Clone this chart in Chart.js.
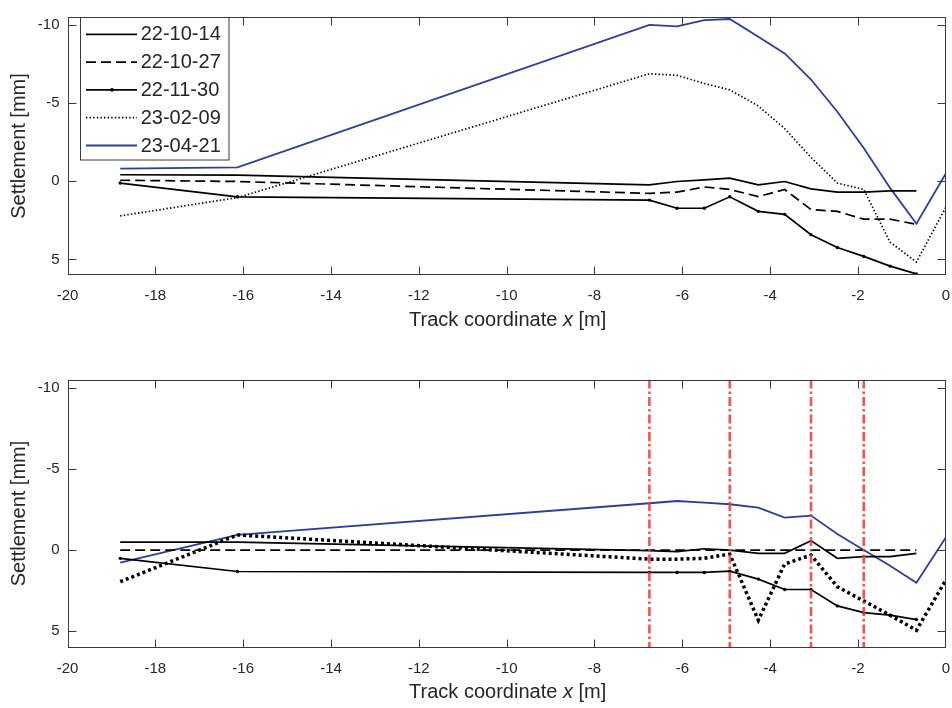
<!DOCTYPE html>
<html><head><meta charset="utf-8">
<script src="https://cdn.jsdelivr.net/npm/chart.js@4/dist/chart.umd.min.js"></script>
<style>
html,body{margin:0;padding:0;background:#fff;}
#wrap{position:relative;width:952px;height:708px;overflow:hidden;}
.box{position:absolute;left:0;width:952px;height:354px;}
canvas{display:block;}
</style></head><body>
<div id="wrap">
<div class="box" style="top:0"><canvas id="c1" width="952" height="354"></canvas></div>
<div class="box" style="top:354px"><canvas id="c2" width="952" height="354"></canvas></div>
</div>
<script>
// ---- data ----
const xPositions = [-18.8, -16.13, -6.75, -6.12, -5.5, -4.92, -4.27, -3.67, -3.07, -2.47, -1.87, -1.27, -0.67, 0];
const seriesLabels = ['22-10-14', '22-10-27', '22-11-30', '23-02-09', '23-04-21'];

const top221014 = [-0.41, -0.39, 0.23, 0.02, -0.08, -0.19, 0.23, 0.02, 0.49, 0.70, 0.70, 0.62, 0.62];
const top221027 = [-0.06, 0.02, 0.78, 0.70, 0.37, 0.53, 0.99, 0.53, 1.81, 1.93, 2.43, 2.43, 2.76];
const top221130 = [0.12, 1.00, 1.21, 1.73, 1.73, 1.00, 1.93, 2.12, 3.42, 4.24, 4.81, 5.43, 5.93];
const top230209 = [2.22, 1.05, -6.87, -6.77, -6.25, -5.84, -4.81, -3.37, -1.52, 0.12, 0.53, 3.90, 5.17, 1.67];
const top230421 = [-0.80, -0.88, -10.0, -9.90, -10.30, -10.37, -9.24, -8.17, -6.50, -4.44, -2.12, 0.43, 2.72, -0.49];

const bot221014 = [-0.49, -0.49, 0.04, 0.10, -0.08, 0.00, 0.20, 0.20, -0.58, 0.51, 0.41, 0.41, 0.20];
const bot221027 = [0, 0, 0, 0, 0, 0, 0, 0, 0, 0, 0, 0, 0];
const bot221130 = [0.51, 1.32, 1.38, 1.38, 1.38, 1.30, 1.79, 2.43, 2.43, 3.44, 3.85, 4.01, 4.28];
const bot230209 = [1.95, -0.93, 0.56, 0.56, 0.51, 0.25, 4.32, 0.86, 0.31, 2.26, 3.13, 4.01, 4.94, 1.85];
const bot230421 = [0.78, -0.93, -2.88, -3.02, -2.92, -2.82, -2.61, -2.00, -2.12, -0.99, 0.00, 0.97, 2.02, -0.78];

const redLineX = [-6.75, -4.92, -3.07, -1.87];

const xTickValues = [-20, -18, -16, -14, -12, -10, -8, -6, -4, -2, 0];
const yTickValues = [-10, -5, 0, 5];
const xRange = [-20, 0];
const yRange = [-10.5, 6];
const yAxisTitle = 'Settlement [mm]';
const xAxisTitleParts = ['Track coordinate ', 'x', ' [m]'];

// ---- styles ----
const FONT = '"Liberation Sans", Arial, Helvetica, sans-serif';
const AXIS = '#3a3a3a';
const TEXT = '#262626';
const BLUE = '#2b3ca6';
const RED = 'rgba(238,62,62,0.88)';

function pts(vals) { return vals.map((v, i) => ({ x: xPositions[i], y: v })); }

function makeDatasets(v, thickDots) {
  return [
    { label: seriesLabels[0], data: pts(v[0]), borderColor: '#000', borderWidth: 1.7, borderDash: [], pointRadius: 0 },
    { label: seriesLabels[1], data: pts(v[1]), borderColor: '#000', borderWidth: 1.7, borderDash: [10, 5], pointRadius: 0 },
    { label: seriesLabels[2], data: pts(v[2]), borderColor: '#000', borderWidth: 1.7, borderDash: [], pointRadius: 1.7, pointBackgroundColor: '#000', pointBorderWidth: 0 },
    thickDots
      ? { label: seriesLabels[3], data: pts(v[3]), borderColor: '#000', borderWidth: 3.5, borderDash: [3, 3], pointRadius: 0 }
      : { label: seriesLabels[3], data: pts(v[3]), borderColor: '#000', borderWidth: 1.7, borderDash: [1.4, 2.2], pointRadius: 0 },
    { label: seriesLabels[4], data: pts(v[4]), borderColor: BLUE, borderWidth: 1.8, borderDash: [], pointRadius: 0 }
  ];
}

const framePlugin = {
  id: 'frame',
  afterDatasetsDraw(chart, args, opts) {
    const ctx = chart.ctx, a = chart.chartArea;
    const xs = chart.scales.x, ys = chart.scales.y;
    ctx.save();
    ctx.strokeStyle = AXIS; ctx.lineWidth = 1; ctx.setLineDash([]);
    const L = Math.round(a.left) + 0.5, R = Math.round(a.right) - 0.5, T = Math.round(a.top) + 0.5, B = Math.round(a.bottom) - 0.5;
    ctx.strokeRect(L, T, R - L, B - T);
    const tl = 8;
    ctx.beginPath();
    xTickValues.forEach(v => {
      const px = Math.round(xs.getPixelForValue(v)) + 0.5;
      if (px <= L + 1 || px >= R - 1) return;
      ctx.moveTo(px, B); ctx.lineTo(px, B - tl);
      ctx.moveTo(px, T); ctx.lineTo(px, T + tl);
    });
    yTickValues.forEach(v => {
      const py = Math.round(ys.getPixelForValue(v)) + 0.5;
      ctx.moveTo(L, py); ctx.lineTo(L + tl, py);
      ctx.moveTo(R, py); ctx.lineTo(R - tl, py);
    });
    ctx.stroke();

    // x axis title with italic x
    ctx.fillStyle = TEXT;
    ctx.textBaseline = 'middle';
    ctx.textAlign = 'left';
    const fN = '20px ' + FONT, fI = 'italic 20px ' + FONT;
    const fonts = [fN, fI, fN];
    let total = 0;
    const widths = xAxisTitleParts.map((s, i) => { ctx.font = fonts[i]; const w = ctx.measureText(s).width; total += w; return w; });
    let x = (a.left + a.right) / 2 - total / 2 + 1;
    const y = a.bottom + 45;
    xAxisTitleParts.forEach((s, i) => { ctx.font = fonts[i]; ctx.fillText(s, x, y); x += widths[i]; });

    if (opts && opts.legend) {
      ctx.fillStyle = '#fff';
      ctx.fillRect(80.5, 17.5, 148.5, 142.5);
      ctx.strokeStyle = AXIS; ctx.lineWidth = 1;
      ctx.strokeRect(80.5, 17.5, 148.5, 142.5);
      chart.data.datasets.forEach((ds, i) => {
        const ey = 34.3 + i * 27.8;
        ctx.strokeStyle = ds.borderColor;
        ctx.lineWidth = ds.borderWidth;
        ctx.setLineDash(ds.borderDash || []);
        ctx.beginPath(); ctx.moveTo(86, ey); ctx.lineTo(137, ey); ctx.stroke();
        ctx.setLineDash([]);
        if (ds.pointRadius > 0) {
          ctx.fillStyle = '#000';
          ctx.beginPath(); ctx.arc(112, ey, 1.8, 0, Math.PI * 2); ctx.fill();
        }
        ctx.fillStyle = TEXT;
        ctx.font = '20px ' + FONT;
        ctx.textBaseline = 'middle';
        ctx.fillText(ds.label, 140.7, ey + 0.5);
      });
    }
    ctx.restore();
  }
};

function makeOptions(padTop, padBottom, xHeight, legend) {
  return {
    responsive: false,
    animation: false,
    devicePixelRatio: 1,
    layout: { padding: { left: 3, right: 6, top: padTop, bottom: padBottom } },
    elements: { line: { tension: 0, borderCapStyle: 'butt', borderJoinStyle: 'miter' } },
    plugins: { legend: { display: false }, tooltip: { enabled: false }, frame: { legend: legend } },
    scales: {
      x: {
        type: 'linear', min: xRange[0], max: xRange[1],
        afterBuildTicks: s => { s.ticks = xTickValues.map(v => ({ value: v })); },
        afterFit: s => { s.height = xHeight; },
        grid: { display: false, drawTicks: true, tickLength: 10 },
        border: { display: false },
        ticks: { autoSkip: false, maxRotation: 0, padding: 2, color: TEXT, font: { family: FONT, size: 15 } },
        title: { display: false }
      },
      y: {
        type: 'linear', reverse: true, min: yRange[0], max: yRange[1],
        afterBuildTicks: s => { s.ticks = yTickValues.map(v => ({ value: v })); },
        afterFit: s => { s.width = 64.5; },
        grid: { display: false, drawTicks: false },
        border: { display: false },
        ticks: { padding: 8, color: TEXT, font: { family: FONT, size: 15 } },
        title: { display: true, text: yAxisTitle, color: TEXT, font: { family: FONT, size: 20 }, padding: { top: 4, bottom: 4 } }
      }
    }
  };
}

new Chart(document.getElementById('c1'), {
  type: 'line',
  data: { datasets: makeDatasets([top221014, top221027, top221130, top230209, top230421], false) },
  options: makeOptions(8.5, 19, 60, true),
  plugins: [framePlugin]
});

const botSets = makeDatasets([bot221014, bot221027, bot221130, bot230209, bot230421], true);
redLineX.forEach(xv => {
  botSets.push({ label: 'x=' + xv, data: [{ x: xv, y: yRange[0] }, { x: xv, y: yRange[1] }], borderColor: RED, borderWidth: 2.6, borderDash: [9, 3, 2.5, 3], pointRadius: 0, order: -1 });
});

new Chart(document.getElementById('c2'), {
  type: 'line',
  data: { datasets: botSets },
  options: makeOptions(25.5, 0.5, 60, false),
  plugins: [framePlugin]
});
</script>
</body></html>
